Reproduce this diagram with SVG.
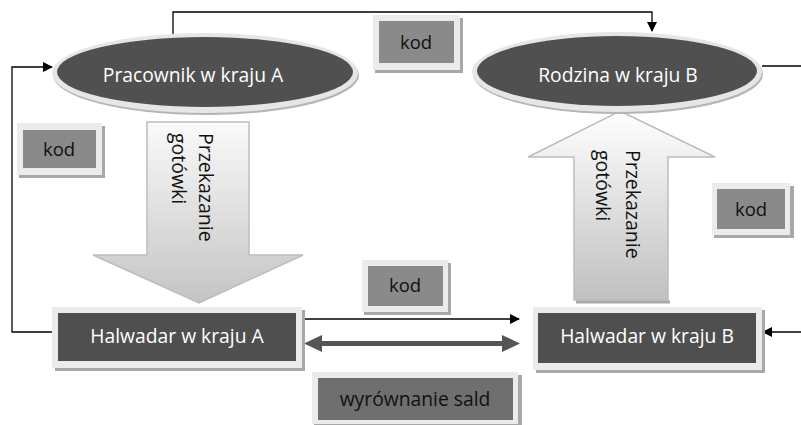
<svg xmlns="http://www.w3.org/2000/svg" width="801" height="425" viewBox="0 0 801 425">
<defs>
<linearGradient id="gDown" x1="0" y1="0" x2="0" y2="1">
<stop offset="0" stop-color="#fafafa"/><stop offset="1" stop-color="#c4c4c4"/>
</linearGradient>
<linearGradient id="gUp" x1="0" y1="0" x2="0" y2="1">
<stop offset="0" stop-color="#ffffff"/><stop offset="1" stop-color="#c0c0c0"/>
</linearGradient>
<marker id="ah" markerWidth="10" markerHeight="10" refX="9" refY="5" orient="auto" markerUnits="userSpaceOnUse">
<path d="M0,0 L10,5 L0,10 Z" fill="#000"/>
</marker>
</defs>
<style>
.lbl{font-family:"Open Sans","Liberation Sans",sans-serif;text-anchor:middle}
.rot{font-family:"Open Sans","Liberation Sans",sans-serif;text-anchor:start;fill:#111;font-size:19.5px}
.w{fill:#fff}
.k{fill:#111}
.frame{fill:#ebebeb}
.shadow{fill:#a8a8a8}
.dark{fill:#4f4f4f}
.kod{fill:#8a8a8a}
.conn{fill:none;stroke:#000;stroke-width:1.3}
</style>

<g id="arrowDown">
<path d="M147,122 L249,122 L249,255 L303,255 L199,303 L93,255 L147,255 Z" fill="url(#gDown)" stroke="#bdbdbd" stroke-width="1.5"/>
<text class="rot" transform="translate(199,133) rotate(90)">Przekazanie</text>
<text class="rot" transform="translate(172,133) rotate(90)">gotówki</text>
</g>

<g id="arrowUp">
<path d="M620,111 L715,157 L668,157 L668,300 L574,300 L574,157 L528,157 Z" fill="url(#gUp)" stroke="#bdbdbd" stroke-width="1.5"/>
<line x1="576" y1="302" x2="670" y2="302" stroke="#a8a8a8" stroke-width="3"/>
<text class="rot" transform="translate(626,150) rotate(90)">Przekazanie</text>
<text class="rot" transform="translate(596,150) rotate(90)">gotówki</text>
</g>

<g id="connectors">
<path class="conn" d="M173,34 L173,12 L652,12 L652,31" marker-end="url(#ah)"/>
<path class="conn" d="M53,332 L12,332 L12,67 L52,67" marker-end="url(#ah)"/>
<path class="conn" d="M762,66 L801,66"/>
<path class="conn" d="M302,319 L519,319" marker-end="url(#ah)"/>
<path class="conn" d="M801,332 L763,332" marker-end="url(#ah)"/>
<g fill="#555">
<rect x="318" y="341" width="188" height="5"/>
<path d="M304,343.5 L322,335 L322,352 Z"/>
<path d="M520,343.5 L502,335 L502,352 Z"/>
</g>
</g>

<g id="pracownik">
<ellipse cx="206" cy="75" rx="153" ry="40" fill="#b5b5b5"/>
<ellipse cx="205" cy="73" rx="153" ry="40" fill="#e6e6e6"/>
<ellipse cx="205" cy="72" rx="148" ry="35" fill="#505050"/>
<text class="lbl w" x="193" y="82" font-size="19.3">Pracownik w kraju A</text>
</g>

<g id="rodzina">
<ellipse cx="618" cy="74" rx="145" ry="40" fill="#b5b5b5"/>
<ellipse cx="617" cy="72" rx="145" ry="40" fill="#e6e6e6"/>
<ellipse cx="617" cy="71" rx="140" ry="35" fill="#505050"/>
<text class="lbl w" x="618" y="82" font-size="19.3">Rodzina w kraju B</text>
</g>

<g id="halwadarA">
<rect x="55" y="310" width="250" height="61" class="shadow"/>
<rect x="52" y="307" width="250" height="61" class="frame"/>
<rect x="58" y="313" width="238" height="48" class="dark"/>
<text class="lbl w" x="177" y="343" font-size="19.3">Halwadar w kraju A</text>
</g>

<g id="halwadarB">
<rect x="536" y="310" width="229" height="63" class="shadow"/>
<rect x="533" y="307" width="229" height="63" class="frame"/>
<rect x="538" y="313" width="218" height="50" class="dark"/>
<text class="lbl w" x="647" y="343" font-size="19.3">Halwadar w kraju B</text>
</g>

<g id="kod1">
<rect x="375" y="18" width="88" height="55" class="shadow"/>
<rect x="373" y="15" width="87" height="55" class="frame"/>
<rect x="379" y="21" width="75" height="42" class="kod"/>
<text class="lbl k" x="416" y="49" font-size="18.5">kod</text>
</g>

<g id="kod2">
<rect x="19" y="126" width="86" height="52" class="shadow"/>
<rect x="17" y="123" width="85" height="52" class="frame"/>
<rect x="23" y="130" width="73" height="38" class="kod"/>
<text class="lbl k" x="59" y="156" font-size="18.5">kod</text>
</g>

<g id="kod3">
<rect x="714" y="186" width="80" height="52" class="shadow"/>
<rect x="712" y="183" width="78" height="52" class="frame"/>
<rect x="717" y="189" width="68" height="40" class="kod"/>
<text class="lbl k" x="751" y="216" font-size="18.5">kod</text>
</g>

<g id="kod4">
<rect x="364" y="263" width="87" height="52" class="shadow"/>
<rect x="362" y="260" width="86" height="52" class="frame"/>
<rect x="368" y="266" width="75" height="40" class="kod"/>
<text class="lbl k" x="405" y="292" font-size="18.5">kod</text>
</g>

<g id="wyrownanie">
<rect x="314" y="375" width="208" height="52" class="shadow"/>
<rect x="312" y="372" width="206" height="52" class="frame"/>
<rect x="318" y="378" width="195" height="42" fill="#6f6f6f"/>
<text class="lbl k" x="415" y="406" font-size="19.3">wyrównanie sald</text>
</g>
</svg>
